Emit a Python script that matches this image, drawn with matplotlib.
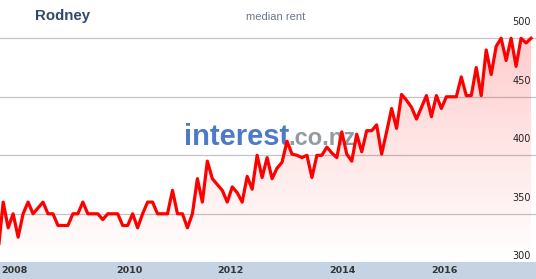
import numpy as np
import matplotlib
matplotlib.use('Agg')
import matplotlib.pyplot as plt
from matplotlib import font_manager
from matplotlib.patches import Polygon, Rectangle

# monthly median rent, Rodney
rent = [318, 360, 338, 350, 330, 350, 360, 350, 355, 360,
        350, 350, 340, 340, 340, 350, 350, 360, 350, 350,
        350, 345, 350, 350, 350, 340, 340, 350, 338, 350,
        360, 360, 350, 350, 350, 370, 350, 350, 338, 350,
        380, 360, 395, 380, 375, 370, 360, 373, 368, 360,
        382, 371, 400, 381, 398, 380, 389, 394, 412, 401,
        400, 398, 400, 381, 400, 400, 407, 402, 398, 420,
        401, 395, 418, 403, 421, 421, 426, 401, 420, 440,
        423, 452, 447, 441, 431, 441, 451, 433, 451, 440,
        450, 450, 450, 467, 451, 451, 475, 451, 490, 469,
        493, 500, 481, 500, 476, 500, 496, 500]
years = ['2008', '2010', '2012', '2014', '2016']
year_pos = [3.2, 26.4, 46.7, 69.2, 89.7]
grid_vals = [350, 400, 450, 500]
y_labels = [300, 350, 400, 450, 500]

# narrow font for the watermark if we have it
try:
    font_manager.findfont('Liberation Sans Narrow', fallback_to_default=False)
    wm_font = 'Liberation Sans Narrow'
    wm_size = (25.5, 20.5)
except Exception:
    wm_font = 'Liberation Sans'
    wm_size = (21, 17)

x = np.arange(len(rent))
ymin, ymax = 308.8, 532.7
xmin, xmax = 0.36, 108.0

fig = plt.figure(figsize=(5.36, 2.79), dpi=100)
fig.patch.set_facecolor('white')

# bottom band with the years
band = Rectangle((0, 0), 1, 17 / 279, transform=fig.transFigure,
                 facecolor='#c6d3e2', edgecolor='none')
fig.patches.append(band)

ax = fig.add_axes([0, 17 / 279, 1, 262 / 279])
ax.set_xlim(xmin, xmax)
ax.set_ylim(ymin, ymax)
ax.axis('off')

for g in grid_vals:
    ax.axhline(g, color='#c4c4c4', lw=0.9, zorder=1)

# pink gradient under the line, fading downwards
h = 200
grad = np.zeros((h, 2, 4))
grad[..., 0] = 1.0
alpha = np.linspace(0.0, 0.2, h)
grad[..., 3] = alpha[:, None]
img = ax.imshow(grad, extent=(xmin, xmax, ymin, 500), origin='lower',
                aspect='auto', zorder=2, interpolation='bilinear')
verts = [(x[0], ymin)] + list(zip(x, rent)) + [(x[-1], ymin)]
poly = Polygon(verts, facecolor='none', edgecolor='none')
ax.add_patch(poly)
img.set_clip_path(poly)
ax.set_xlim(xmin, xmax)
ax.set_ylim(ymin, ymax)

# watermark
ax.text(37.3, 408.5, 'interest', fontsize=wm_size[0], fontweight='bold',
        color='#3a6cc0', family=wm_font, ha='left', va='baseline',
        zorder=3, alpha=0.9)
ax.text(58.3, 408.5, '.co.nz', fontsize=wm_size[1], fontweight='bold',
        color='#8a8f96', family=wm_font, ha='left', va='baseline',
        zorder=3, alpha=0.9)

ax.plot(x, rent, color='#ff0000', lw=2.3, solid_joinstyle='round', zorder=4)

for v in y_labels:
    ax.text(107.0, v + 13.9, str(v), fontsize=7, color='#222222',
            ha='right', va='center', family='DejaVu Sans', zorder=5)

fig.text(35 / 536, 1 - 16 / 279, 'Rodney', fontsize=10.8, fontweight='bold',
         color='#2f4a68', family='Liberation Sans', ha='left', va='center')
fig.text(276 / 536, 1 - 17 / 279, 'median rent', fontsize=8,
         color='#6a7888', family='Liberation Sans', ha='center', va='center')

for yr, p in zip(years, year_pos):
    xf = (p - xmin) / (xmax - xmin)
    fig.text(xf, 8.5 / 279, yr, fontsize=6.8, fontweight='bold',
             color='#333333', family='DejaVu Sans', ha='center', va='center')

fig.savefig('out.png', dpi=100)
plt.close()
